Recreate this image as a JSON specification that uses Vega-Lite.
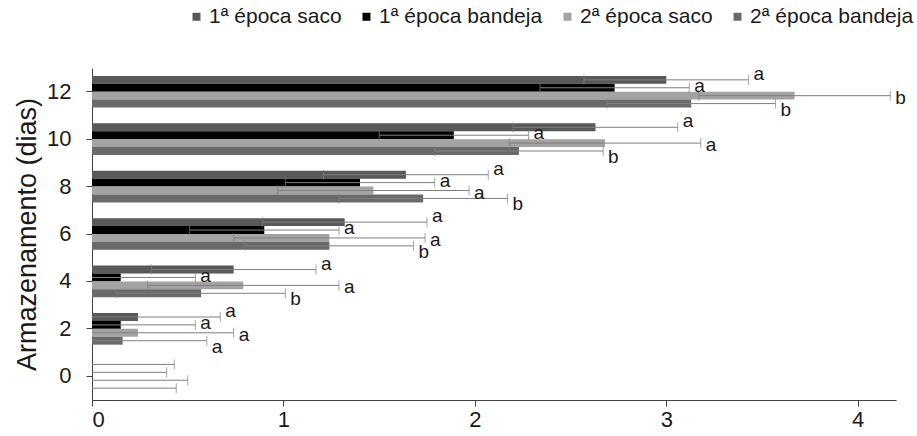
{
  "$schema": "https://vega.github.io/schema/vega-lite/v6.json",
  "width": 804,
  "height": 332,
  "autosize": {"type": "none"},
  "padding": {"left": 92, "top": 68, "right": 21, "bottom": 36},
  "background": "white",
  "config": {
    "font": "Liberation Sans",
    "view": {"stroke": null},
    "axis": {"grid": false, "domainColor": "#404040", "tickColor": "#404040", "labelColor": "#1a1a1a", "titleColor": "#1a1a1a", "labelFont": "Liberation Sans", "titleFont": "Liberation Sans"}
  },
  "data": {
    "values": [
      {"dia": "12", "serie": "1ª época saco", "valor": 3.0, "erro": 0.43, "letra": "a"},
      {"dia": "12", "serie": "1ª época bandeja", "valor": 2.73, "erro": 0.39, "letra": "a"},
      {"dia": "12", "serie": "2ª época saco", "valor": 3.67, "erro": 0.5, "letra": "b"},
      {"dia": "12", "serie": "2ª época bandeja", "valor": 3.13, "erro": 0.44, "letra": "b"},
      {"dia": "10", "serie": "1ª época saco", "valor": 2.63, "erro": 0.43, "letra": "a"},
      {"dia": "10", "serie": "1ª época bandeja", "valor": 1.89, "erro": 0.39, "letra": "a"},
      {"dia": "10", "serie": "2ª época saco", "valor": 2.68, "erro": 0.5, "letra": "a"},
      {"dia": "10", "serie": "2ª época bandeja", "valor": 2.23, "erro": 0.44, "letra": "b"},
      {"dia": "8", "serie": "1ª época saco", "valor": 1.64, "erro": 0.43, "letra": "a"},
      {"dia": "8", "serie": "1ª época bandeja", "valor": 1.4, "erro": 0.39, "letra": "a"},
      {"dia": "8", "serie": "2ª época saco", "valor": 1.47, "erro": 0.5, "letra": "a"},
      {"dia": "8", "serie": "2ª época bandeja", "valor": 1.73, "erro": 0.44, "letra": "b"},
      {"dia": "6", "serie": "1ª época saco", "valor": 1.32, "erro": 0.43, "letra": "a"},
      {"dia": "6", "serie": "1ª época bandeja", "valor": 0.9, "erro": 0.39, "letra": "a"},
      {"dia": "6", "serie": "2ª época saco", "valor": 1.24, "erro": 0.5, "letra": "a"},
      {"dia": "6", "serie": "2ª época bandeja", "valor": 1.24, "erro": 0.44, "letra": "b"},
      {"dia": "4", "serie": "1ª época saco", "valor": 0.74, "erro": 0.43, "letra": "a"},
      {"dia": "4", "serie": "1ª época bandeja", "valor": 0.15, "erro": 0.39, "letra": "a"},
      {"dia": "4", "serie": "2ª época saco", "valor": 0.79, "erro": 0.5, "letra": "a"},
      {"dia": "4", "serie": "2ª época bandeja", "valor": 0.57, "erro": 0.44, "letra": "b"},
      {"dia": "2", "serie": "1ª época saco", "valor": 0.24, "erro": 0.43, "letra": "a"},
      {"dia": "2", "serie": "1ª época bandeja", "valor": 0.15, "erro": 0.39, "letra": "a"},
      {"dia": "2", "serie": "2ª época saco", "valor": 0.24, "erro": 0.5, "letra": "a"},
      {"dia": "2", "serie": "2ª época bandeja", "valor": 0.16, "erro": 0.44, "letra": "a"},
      {"dia": "0", "serie": "1ª época saco", "valor": 0, "erro": 0.43, "letra": ""},
      {"dia": "0", "serie": "1ª época bandeja", "valor": 0, "erro": 0.39, "letra": ""},
      {"dia": "0", "serie": "2ª época saco", "valor": 0, "erro": 0.5, "letra": ""},
      {"dia": "0", "serie": "2ª época bandeja", "valor": 0, "erro": 0.44, "letra": ""}
    ]
  },
  "encoding": {
    "y": {
      "field": "dia", "type": "nominal",
      "scale": {"type": "band", "domain": ["12", "10", "8", "6", "4", "2", "0"], "paddingInner": 0, "paddingOuter": 0},
      "axis": {"title": "Armazenamento  (dias)", "titleFontSize": 27, "titleFontWeight": "normal", "titlePadding": 5, "labelFontSize": 22, "tickSize": 6, "labelPadding": 15, "domainWidth": 1}
    },
    "yOffset": {
      "field": "serie", "type": "nominal",
      "scale": {"domain": ["1ª época saco", "1ª época bandeja", "2ª época saco", "2ª época bandeja"], "paddingInner": 0, "paddingOuter": 1.2}
    }
  },
  "resolve": {"scale": {"yOffset": "independent"}},
  "layer": [
    {
      "mark": {"type": "bar"},
      "encoding": {
        "x": {
          "field": "valor", "type": "quantitative",
          "scale": {"domain": [0, 4.2], "nice": false, "zero": true},
          "axis": {"title": null, "values": [0, 1, 2, 3, 4], "format": "d", "labelFontSize": 22, "tickSize": 6, "labelPadding": 3}
        },
        "color": {
          "field": "serie", "type": "nominal",
          "scale": {"domain": ["1ª época saco", "1ª época bandeja", "2ª época saco", "2ª época bandeja"], "range": ["#595959", "#000000", "#a3a3a3", "#6a6a6a"]},
          "legend": {"title": null, "orient": "none", "direction": "horizontal", "legendX": 94, "legendY": -62, "symbolType": "square", "symbolSize": 64, "labelFontSize": 21, "labelLimit": 0, "labelColor": "#1a1a1a", "columnPadding": 14, "labelOffset": 2, "symbolStrokeWidth": 0}
        }
      }
    },
    {
      "mark": {"type": "errorbar", "ticks": {"size": 10}, "color": "#7f7f7f", "clip": true, "thickness": 1},
      "encoding": {
        "x": {"field": "valor", "type": "quantitative"},
        "xError": {"field": "erro"}
      }
    },
    {
      "transform": [{"calculate": "datum.valor + datum.erro", "as": "pos"}],
      "mark": {"type": "text", "align": "left", "baseline": "middle", "dx": 5, "fontSize": 19, "color": "#1a1a1a"},
      "encoding": {
        "x": {"field": "pos", "type": "quantitative"},
        "yOffset": {
          "field": "serie", "type": "nominal",
          "scale": {"type": "point", "domain": ["1ª época saco", "1ª época bandeja", "2ª época saco", "2ª época bandeja"], "padding": 0.5}
        },
        "text": {"field": "letra"}
      }
    }
  ]
}
